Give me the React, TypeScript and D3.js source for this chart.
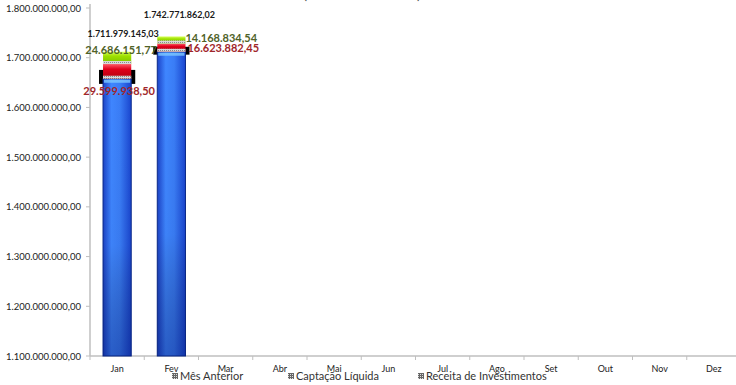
import React from 'react';
import * as d3 from 'd3';

const months = ['Jan', 'Fev', 'Mar', 'Abr', 'Mai', 'Jun', 'Jul', 'Ago', 'Set', 'Out', 'Nov', 'Dez'];
const mesAnterior = [1657693054.76, 1711979145.03];
const receitaInvest = [29599938.5, 16623882.45];
const captacaoLiq = [24686151.77, 14168834.54];
const totals = [1711979145.03, 1742771862.02];
const yTicks = [1.1e9, 1.2e9, 1.3e9, 1.4e9, 1.5e9, 1.6e9, 1.7e9, 1.8e9];
const legendNames = ['Mês Anterior', 'Captação Líquida', 'Receita de Investimentos'];
const titleText = '(Valores em Reais)';

const W = 736;
const H = 385;
const FONT = 'Lato, "Open Sans", sans-serif';

const loc = d3.formatLocale({ decimal: ',', thousands: '.', grouping: [3], currency: ['R$', ''] });
const fmt = loc.format(',.2f');

// label placement (style)
const totalLabelLayout = [{ dx: 6, dy: -15 }, { dx: 8, dy: -18 }];
const greenLabelLayout = [
  { mode: 'center', dx: 4, dy: 2 },
  { mode: 'right', dx: 0, dy: 2 },
];
const redLabelLayout = [
  { mode: 'center', dx: 2, dy: 16 },
  { mode: 'right', dx: 2, dy: 4 },
];

export default function App() {
  const x = d3.scaleBand<string>().domain(months).range([90, 741]).padding(0);
  const y = d3.scaleLinear().domain([1.1e9, 1.8e9]).range([356, 8]);
  const bw = x.bandwidth() * 0.52;
  const axisY = 356;

  const legendX = [172, 288, 418];

  return (
    <svg width={W} height={H} style={{ position: 'absolute', left: 0, top: 0, background: '#fff' }}>
      <defs>
        <linearGradient id="blueH" x1="0" x2="1" y1="0" y2="0">
          <stop offset="0" stopColor="#1c43c8" />
          <stop offset="0.3" stopColor="#3f86ff" />
          <stop offset="0.6" stopColor="#3a7df6" />
          <stop offset="1" stopColor="#1a45cf" />
        </linearGradient>
        <linearGradient id="blueV" x1="0" x2="0" y1="0" y2="1">
          <stop offset="0" stopColor="#000" stopOpacity="0" />
          <stop offset="0.6" stopColor="#000" stopOpacity="0.03" />
          <stop offset="1" stopColor="#001060" stopOpacity="0.35" />
        </linearGradient>
        <linearGradient id="redG" x1="0" x2="0" y1="0" y2="1">
          <stop offset="0" stopColor="#ff5a6a" />
          <stop offset="0.35" stopColor="#e0001a" />
          <stop offset="1" stopColor="#b00010" />
        </linearGradient>
        <linearGradient id="greenG" x1="0" x2="0" y1="0" y2="1">
          <stop offset="0" stopColor="#d8ff5a" />
          <stop offset="0.35" stopColor="#9ee000" />
          <stop offset="1" stopColor="#78c000" />
        </linearGradient>
        <pattern id="dots" width="2" height="2" patternUnits="userSpaceOnUse">
          <rect width="2" height="2" fill="#d8d8d8" />
          <rect width="1" height="1" fill="#8a8a8a" />
        </pattern>
        <pattern id="legHatch" width="2" height="2" patternUnits="userSpaceOnUse">
          <rect width="2" height="2" fill="#666" />
          <rect width="1" height="1" fill="#ddd" />
        </pattern>
      </defs>

      {/* partially visible title */}
      <text x={362} y={-1.5} textAnchor="middle" fontFamily={FONT} fontSize={15} fill="#555">
        {titleText}
      </text>

      {/* y axis */}
      <line x1={90} x2={90} y1={4} y2={axisY} stroke="#bfbfbf" strokeWidth={1.5} />
      {yTicks.map((t) => (
        <g key={t}>
          <line x1={86} x2={90} y1={y(t)} y2={y(t)} stroke="#bfbfbf" />
          <text x={81} y={y(t) + 3.5} textAnchor="end" fontFamily={FONT} fontSize={9.5} fill="#222">
            {fmt(t)}
          </text>
        </g>
      ))}

      {/* x axis */}
      <line x1={90} x2={741} y1={axisY} y2={axisY} stroke="#bfbfbf" strokeWidth={1.5} />
      {months.map((m) => (
        <g key={m}>
          <line x1={x(m)!} x2={x(m)!} y1={axisY} y2={axisY + 4} stroke="#bfbfbf" />
          <text x={x(m)! + x.bandwidth() / 2} y={372} textAnchor="middle" fontFamily={FONT} fontSize={9} fill="#222">
            {m}
          </text>
        </g>
      ))}

      {/* bars */}
      {mesAnterior.map((base, i) => {
        const m = months[i];
        const cx = x(m)! + x.bandwidth() / 2;
        const x0 = cx - bw / 2;
        const yBase = y(base);
        const yRed = y(base + receitaInvest[i]);
        const yTop = y(base + receitaInvest[i] + captacaoLiq[i]);
        const redH = yBase - yRed;
        const capTop = yBase - redH * 0.6;
        return (
          <g key={m}>
            {/* black caps */}
            <rect x={x0 - 4} y={capTop} width={bw + 8} height={redH * 0.95} fill="#000" />
            {/* blue */}
            <rect x={x0} y={yBase} width={bw} height={axisY - yBase} fill="url(#blueH)" stroke="#0b2a8a" strokeWidth={1} />
            <rect x={x0} y={yBase} width={bw} height={axisY - yBase} fill="url(#blueV)" />
            <rect x={x0 + 1} y={yBase + 1} width={bw - 2} height={3} fill="#7ec8ff" opacity={0.8} />
            {/* red */}
            <rect x={x0} y={yRed} width={bw} height={redH} fill="url(#redG)" />
            <rect x={x0} y={yBase - 3} width={bw} height={3} fill="url(#dots)" />
            {/* green */}
            <rect x={x0} y={yTop} width={bw} height={yRed - yTop} fill="url(#greenG)" />
            <rect x={x0} y={yRed - 3} width={bw} height={3} fill="url(#dots)" />
          </g>
        );
      })}

      {/* labels */}
      {totals.map((t, i) => {
        const m = months[i];
        const cx = x(m)! + x.bandwidth() / 2;
        const x1 = cx + bw / 2;
        const base = mesAnterior[i];
        const yBase = y(base);
        const yRed = y(base + receitaInvest[i]);
        const yTop = y(t);
        const gl = greenLabelLayout[i];
        const rl = redLabelLayout[i];
        return (
          <g key={'l' + m} fontFamily={FONT} fontWeight="bold">
            <text x={cx + totalLabelLayout[i].dx} y={yTop + totalLabelLayout[i].dy} textAnchor="middle" fontSize={9} fill="#1a1a1a">
              {fmt(t)}
            </text>
            <text
              x={gl.mode === 'center' ? cx + gl.dx : x1 + gl.dx}
              y={(gl.mode === 'center' ? yTop : (yTop + yRed) / 2) + gl.dy}
              textAnchor={gl.mode === 'center' ? 'middle' : 'start'}
              fontSize={11}
              fill="#4f6228"
            >
              {fmt(captacaoLiq[i])}
            </text>
            <text
              x={rl.mode === 'center' ? cx + rl.dx : x1 + rl.dx}
              y={(rl.mode === 'center' ? yBase : (yRed + yBase) / 2) + rl.dy}
              textAnchor={rl.mode === 'center' ? 'middle' : 'start'}
              fontSize={11}
              fill="#a0262a"
            >
              {fmt(receitaInvest[i])}
            </text>
          </g>
        );
      })}

      {/* legend */}
      {legendNames.map((n, i) => (
        <g key={n}>
          <rect x={legendX[i]} y={373} width={6} height={6} fill="url(#legHatch)" />
          <text x={legendX[i] + 8} y={380} fontFamily={FONT} fontSize={11} fill="#333">
            {n}
          </text>
        </g>
      ))}
    </svg>
  );
}
